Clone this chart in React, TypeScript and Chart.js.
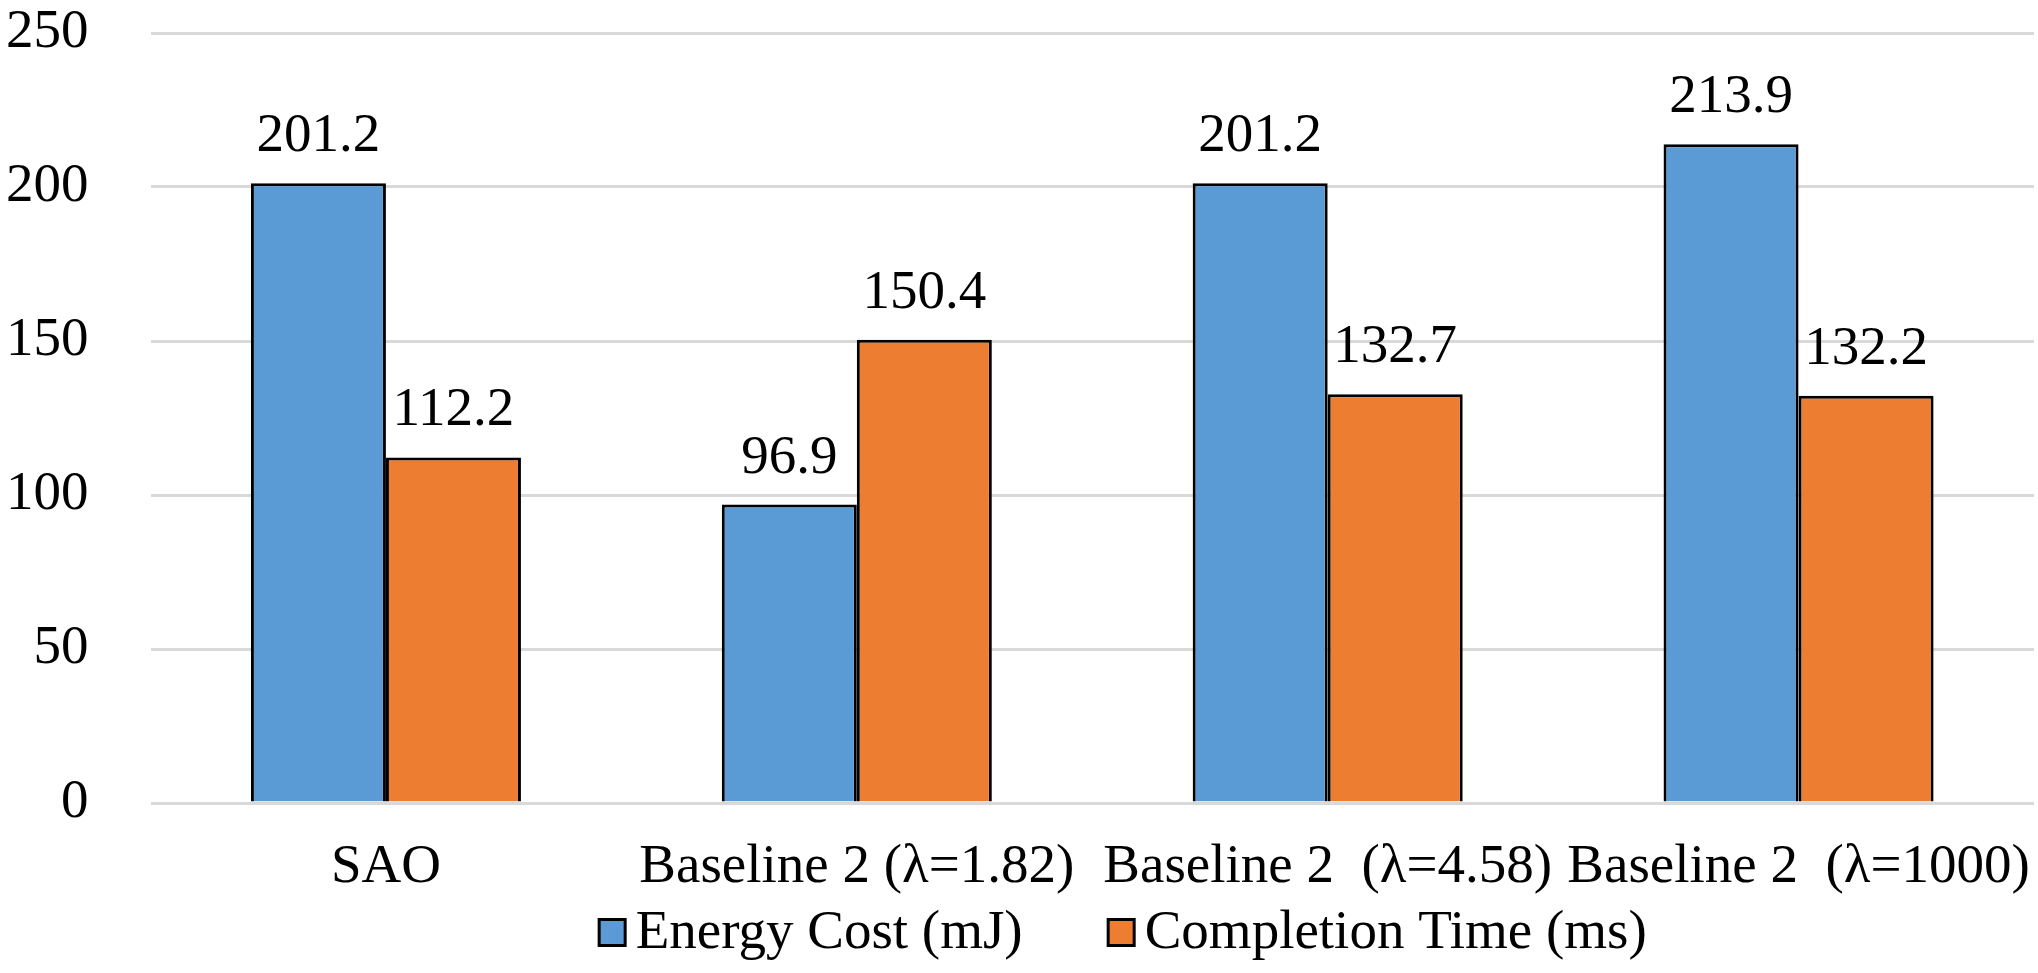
import React, { useEffect, useRef } from "react";
import { Chart, registerables } from "chart.js";

Chart.register(...registerables);

const categories = [
  "SAO",
  "Baseline 2 (λ=1.82)",
  "Baseline 2  (λ=4.58)",
  "Baseline 2  (λ=1000)",
];
const energyCost = [201.2, 96.9, 201.2, 213.9];
const completionTime = [112.2, 150.4, 132.7, 132.2];
const seriesLabels = ["Energy Cost (mJ)", "Completion Time (ms)"];
const seriesColors = ["#5B9BD5", "#ED7D31"];
const yMin = 0;
const yMax = 250;
const yStep = 50;

const FONT = '"Liberation Serif", "Times New Roman", serif';
const FONT_SIZE = 55;
const CLEAR = "rgba(0,0,0,0)";

const valueLabels = {
  id: "valueLabels",
  afterDatasetsDraw(chart: any) {
    const ctx = chart.ctx;
    ctx.save();
    ctx.font = `${FONT_SIZE}px ${FONT}`;
    ctx.fillStyle = "#000";
    ctx.textAlign = "center";
    ctx.textBaseline = "alphabetic";
    chart.data.datasets.forEach((ds: any, i: number) => {
      const meta = chart.getDatasetMeta(i);
      meta.data.forEach((bar: any, j: number) => {
        const v = ds.data[j] as number;
        ctx.fillText(v.toFixed(1), bar.x, bar.y - 32);
      });
    });
    ctx.restore();
  },
};

const customLegend = {
  id: "customLegend",
  afterDraw(chart: any) {
    const ctx = chart.ctx;
    ctx.save();
    ctx.font = `${FONT_SIZE}px ${FONT}`;
    ctx.textBaseline = "alphabetic";
    ctx.textAlign = "left";
    const box = 26;
    const border = 3;
    const gapBoxText = 9;
    const gapItems = 84;
    const items = chart.data.datasets.map((ds: any) => ({
      label: ds.label as string,
      color: ds.backgroundColor as string,
    }));
    const widths = items.map(
      (it: any) => box + border + gapBoxText + ctx.measureText(it.label).width
    );
    const total =
      widths.reduce((a: number, b: number) => a + b, 0) +
      gapItems * (items.length - 1);
    const centerX = (chart.chartArea.left + chart.chartArea.right) / 2 + 30;
    let x = centerX - total / 2;
    const baseline = chart.height - 25;
    items.forEach((it: any, i: number) => {
      const top = baseline - 30;
      ctx.fillStyle = it.color;
      ctx.fillRect(x + border / 2, top + border / 2, box, box);
      ctx.lineWidth = border;
      ctx.strokeStyle = "#000";
      ctx.strokeRect(x + border / 2, top + border / 2, box, box);
      ctx.fillStyle = "#000";
      ctx.fillText(it.label, x + box + border + gapBoxText, baseline);
      x += widths[i] + gapItems;
    });
    ctx.restore();
  },
};

export default function App() {
  const canvasRef = useRef<HTMLCanvasElement | null>(null);

  useEffect(() => {
    if (!canvasRef.current) return;
    const chart = new Chart(canvasRef.current, {
      type: "bar",
      data: {
        labels: categories,
        datasets: [
          {
            label: seriesLabels[0],
            data: energyCost,
            backgroundColor: seriesColors[0],
            borderColor: "#000",
            borderWidth: 3,
            categoryPercentage: 0.5735,
            barPercentage: 1,
          },
          {
            label: seriesLabels[1],
            data: completionTime,
            backgroundColor: seriesColors[1],
            borderColor: "#000",
            borderWidth: 3,
            categoryPercentage: 0.5735,
            barPercentage: 1,
          },
        ],
      },
      options: {
        responsive: false,
        animation: false,
        devicePixelRatio: 1,
        layout: {
          padding: { left: 6, right: 4, top: 0, bottom: 72 },
        },
        plugins: {
          legend: { display: false },
          tooltip: { enabled: false },
        },
        scales: {
          x: {
            grid: {
              display: true,
              drawOnChartArea: false,
              color: CLEAR,
              drawTicks: true,
              tickLength: 32,
              tickColor: CLEAR,
            },
            border: { display: false },
            ticks: {
              color: "#000",
              font: { family: FONT, size: FONT_SIZE },
              padding: 0,
              maxRotation: 0,
              minRotation: 0,
              autoSkip: false,
            },
          },
          y: {
            min: yMin,
            max: yMax,
            grid: {
              color: "#d9d9d9",
              lineWidth: 3,
              drawTicks: true,
              tickLength: 62,
              tickColor: CLEAR,
            },
            border: { display: false },
            ticks: {
              stepSize: yStep,
              color: "#000",
              font: { family: FONT, size: FONT_SIZE },
              padding: 0,
            },
          },
        },
      },
      plugins: [valueLabels, customLegend],
    });
    return () => chart.destroy();
  }, []);

  return (
    <div
      style={{
        position: "absolute",
        left: 0,
        top: 0,
        width: 2038,
        height: 973,
        background: "#fff",
      }}
    >
      <canvas ref={canvasRef} width={2038} height={973} />
    </div>
  );
}
